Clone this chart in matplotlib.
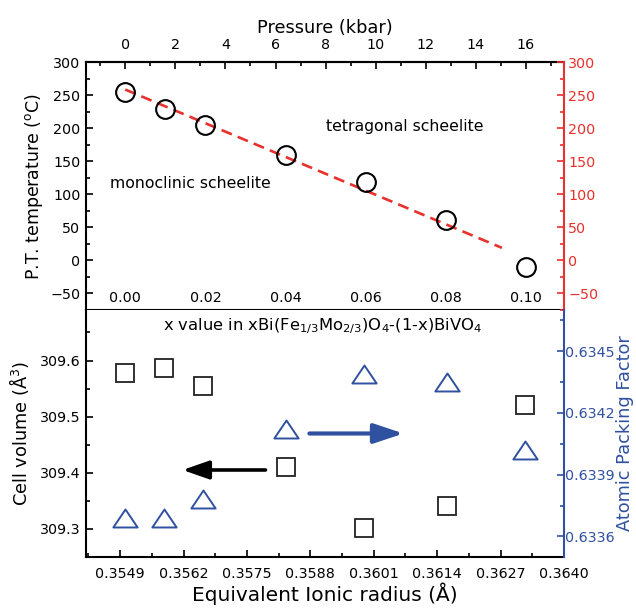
import numpy as np
import matplotlib
matplotlib.use('Agg')
import matplotlib.pyplot as plt
from matplotlib.path import Path
from matplotlib.ticker import MultipleLocator

plt.rcParams['font.family'] = ['DejaVu Sans']
plt.rcParams['mathtext.default'] = 'regular'

red = '#e8302c'
blue = '#3050a0'

# composition x in xBi(Fe1/3Mo2/3)O4-(1-x)BiVO4
x_frac = [0.00, 0.01, 0.02, 0.04, 0.06, 0.08, 0.10]
pt_temp = [255, 229, 205, 160, 119, 61, -10]

# equivalent ionic radius of the B site for the same samples
ionic_radius = [0.3550, 0.3558, 0.3566, 0.3583, 0.3599, 0.3616, 0.3632]
cell_volume = [309.577, 309.586, 309.554, 309.410, 309.301, 309.341, 309.520]
packing_factor = [0.63369, 0.63369, 0.63378, 0.63412, 0.63439, 0.63435, 0.63402]

kbar_per_x = 160.0

fig = plt.figure(figsize=(6.36, 6.08), dpi=100)
W, H = 636.0, 608.0
ax1 = fig.add_axes([86 / W, 1 - 310 / H, 478 / W, 248 / H])
ax2 = fig.add_axes([86 / W, 1 - 557 / H, 478 / W, 247 / H])

tick_fs = 10.3

# ---- top: phase transition temperature vs composition / pressure
ax1.plot(x_frac, pt_temp, 'o', ms=13.5, mfc='none', mec='black', mew=1.5, zorder=3)

# linear trend through the transition points
slope, icpt = np.polyfit(x_frac, pt_temp, 1)
xt = np.array([0.0, 0.094])
ax1.plot(xt, icpt + slope * xt, '--', color=red, lw=1.9, dashes=(4.2, 2.4), zorder=2)

ax1.set_xlim(-0.0098, 0.1095)
ax1.set_ylim(-75, 300)
ax1.set_yticks(np.arange(-50, 301, 50))
ax1.yaxis.set_minor_locator(MultipleLocator(25))
ax1.set_xticks(np.arange(0, 0.101, 0.02))
ax1.set_xticklabels(['%.2f' % v for v in np.arange(0, 0.101, 0.02)])
ax1.tick_params(axis='y', which='both', direction='in', labelsize=tick_fs, pad=4, width=1.2)
ax1.tick_params(axis='y', which='major', length=5)
ax1.tick_params(axis='y', which='minor', length=3)
ax1.tick_params(axis='x', which='major', direction='out', length=4, width=1.2,
                labelsize=tick_fs, pad=-17.5)
ax1.set_ylabel('P.T. temperature ($^o$C)', fontsize=12.5, labelpad=4)
for side in ['left', 'top', 'bottom']:
    ax1.spines[side].set_linewidth(1.5)
ax1.spines['right'].set_visible(False)

ax1r = ax1.twinx()
ax1r.set_ylim(ax1.get_ylim())
ax1r.set_yticks(np.arange(-50, 301, 50))
ax1r.yaxis.set_minor_locator(MultipleLocator(25))
ax1r.tick_params(axis='y', which='both', direction='in', colors=red, labelsize=tick_fs, pad=3, width=1.2)
ax1r.tick_params(axis='y', which='major', length=5)
ax1r.tick_params(axis='y', which='minor', length=3)
for side in ['left', 'top', 'bottom']:
    ax1r.spines[side].set_visible(False)
ax1r.spines['right'].set_color(red)
ax1r.spines['right'].set_linewidth(1.5)

top = ax1.secondary_xaxis('top', functions=(lambda x: x * kbar_per_x, lambda p: p / kbar_per_x))
top.set_xticks(np.arange(0, 17, 2))
top.xaxis.set_minor_locator(MultipleLocator(1))
top.tick_params(which='both', direction='in', labelsize=tick_fs, pad=7, width=1.2)
top.tick_params(which='major', length=5)
top.tick_params(which='minor', length=3)
top.spines['top'].set_linewidth(1.5)
top.set_xlabel('Pressure (kbar)', fontsize=12.8, labelpad=4)

ax1.text(0.667, 0.738, 'tetragonal scheelite', transform=ax1.transAxes,
         ha='center', va='center', fontsize=11.3)
ax1.text(0.218, 0.512, 'monoclinic scheelite', transform=ax1.transAxes,
         ha='center', va='center', fontsize=11.3)

# ---- bottom: cell volume and packing factor vs ionic radius
ax2.plot(ionic_radius, cell_volume, 's', ms=12.5, mfc='none', mec='#222222', mew=1.3, zorder=3)
ax2.set_xlim(0.3542, 0.3640)
ax2.set_ylim(309.25, 309.69)
ax2.set_xticks([0.3549, 0.3562, 0.3575, 0.3588, 0.3601, 0.3614, 0.3627, 0.3640])
ax2.set_xticklabels(['0.3549', '0.3562', '0.3575', '0.3588', '0.3601', '0.3614', '0.3627', '0.3640'])
ax2.xaxis.set_minor_locator(MultipleLocator(0.00065))
ax2.set_yticks([309.3, 309.4, 309.5, 309.6])
ax2.yaxis.set_minor_locator(MultipleLocator(0.05))
ax2.tick_params(which='both', direction='in', labelsize=tick_fs, width=1.2, top=False)
ax2.tick_params(which='major', length=5)
ax2.tick_params(which='minor', length=3)
ax2.tick_params(axis='x', pad=7)
ax2.tick_params(axis='y', pad=4)
ax2.set_xlabel('Equivalent Ionic radius (\u00c5)', fontsize=14.5, labelpad=1)
ax2.set_ylabel('Cell volume (\u00c5$^3$)', fontsize=12.8, labelpad=6)
ax2.spines['top'].set_visible(False)
ax2.spines['right'].set_visible(False)
ax2.spines['left'].set_linewidth(1.5)
ax2.spines['bottom'].set_linewidth(1.5)

ax2r = ax2.twinx()
# flattened open triangle
tri = Path([(-1, -0.74), (1, -0.74), (0, 0.74), (-1, -0.74)],
           [Path.MOVETO, Path.LINETO, Path.LINETO, Path.CLOSEPOLY])
ax2r.plot(ionic_radius, packing_factor, linestyle='none', marker=tri, ms=17.5,
          mfc='none', mec=blue, mew=1.4, zorder=3)
ax2r.set_ylim(0.6335, 0.6347)
ax2r.set_yticks([0.6336, 0.6339, 0.6342, 0.6345])
ax2r.set_yticklabels(['0.6336', '0.6339', '0.6342', '0.6345'])
ax2r.yaxis.set_minor_locator(MultipleLocator(0.00015))
ax2r.tick_params(axis='y', which='both', direction='in', colors=blue, labelsize=tick_fs, pad=1, width=1.2)
ax2r.tick_params(axis='y', which='major', length=5)
ax2r.tick_params(axis='y', which='minor', length=3)
ax2r.set_ylabel('Atomic Packing Factor', color=blue, fontsize=12.8, labelpad=1)
for side in ['left', 'top', 'bottom']:
    ax2r.spines[side].set_visible(False)
ax2r.spines['right'].set_color(blue)
ax2r.spines['right'].set_linewidth(1.5)

ax2.text(0.494, 0.935, r'x value in xBi(Fe$_{1/3}$Mo$_{2/3}$)O$_4$-(1-x)BiVO$_4$',
         transform=ax2.transAxes, ha='center', va='center', fontsize=11.8)

# arrows pointing each series to its own axis
ax2.annotate('', xy=(0.35618, 309.405), xytext=(0.35788, 309.405),
             arrowprops=dict(arrowstyle='-|>,head_length=0.8,head_width=0.28', lw=2.6,
                             color='black', mutation_scale=20, shrinkA=0, shrinkB=0))
ax2r.annotate('', xy=(0.36071, 0.63410), xytext=(0.35878, 0.63410),
              arrowprops=dict(arrowstyle='-|>,head_length=0.9,head_width=0.3', lw=3,
                              color=blue, mutation_scale=20, shrinkA=0, shrinkB=0))

fig.savefig('out.png', dpi=100)
